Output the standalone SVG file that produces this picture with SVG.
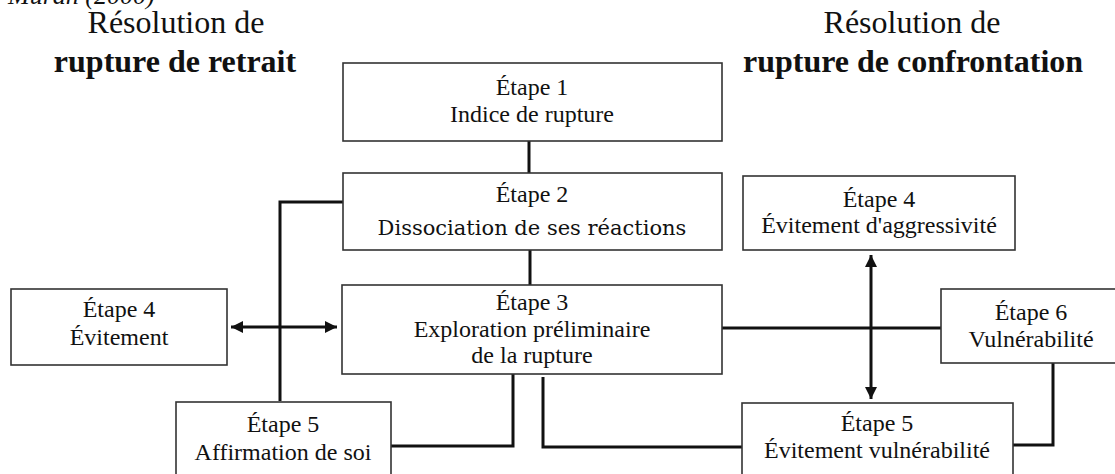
<svg xmlns="http://www.w3.org/2000/svg" width="1115" height="474" viewBox="0 0 1115 474">
<style>
.box{fill:#fff;stroke:#333;stroke-width:1.6}
.t{font-family:"Liberation Serif","Times New Roman",serif;font-size:24px;fill:#111;text-anchor:middle}
.d{font-family:"DejaVu Serif",serif;font-size:21px;fill:#111;text-anchor:middle}
.h{font-family:"Liberation Serif","Times New Roman",serif;font-size:32px;fill:#111;text-anchor:middle}
.hb{font-family:"Liberation Serif","Times New Roman",serif;font-size:32px;font-weight:bold;fill:#111;text-anchor:middle}
.c{fill:none;stroke:#111;stroke-width:3}
</style>
<defs>
<marker id="ah" viewBox="0 0 10 10" refX="10" refY="5" markerWidth="4" markerHeight="4" orient="auto-start-reverse" markerUnits="strokeWidth">
<path d="M0,0 L10,5 L0,10 z" fill="#111"/>
</marker>
</defs>
<rect width="1115" height="474" fill="#fff"/>
<text x="8" y="4" font-family="Liberation Serif, serif" font-style="italic" font-size="26" fill="#111">Muran (2000)</text>
<g id="title-left">
<text class="h" x="176" y="33">Résolution de</text>
<text class="hb" x="175" y="72">rupture de retrait</text>
</g>
<g id="title-right">
<text class="h" x="912" y="33">Résolution de</text>
<text class="hb" x="913" y="72">rupture de confrontation</text>
</g>
<g id="connectors">
<path class="c" d="M529,141 V173"/>
<path class="c" d="M530,250 V285"/>
<path class="c" d="M343,202 H280 V401"/>
<path class="c" d="M231,327 H337" marker-start="url(#ah)" marker-end="url(#ah)"/>
<path class="c" d="M513,374 V446 H391"/>
<path class="c" d="M543,377 V447 H742"/>
<path class="c" d="M722,328 H941"/>
<path class="c" d="M871,255 V399" marker-start="url(#ah)" marker-end="url(#ah)"/>
<path class="c" d="M1013,445 H1053 V363"/>
</g>
<g id="n1">
<rect class="box" x="343" y="63" width="379" height="78"/>
<text class="t" x="532" y="95">Étape 1</text>
<text class="t" x="532" y="122">Indice de rupture</text>
</g>
<g id="n2">
<rect class="box" x="343" y="173" width="379" height="77"/>
<text class="t" x="532" y="202">Étape 2</text>
<text class="d" x="532" y="235">Dissociation de ses réactions</text>
</g>
<g id="n3">
<rect class="box" x="342" y="285" width="380" height="89"/>
<text class="t" x="532" y="310">Étape 3</text>
<text class="t" x="532" y="337">Exploration préliminaire</text>
<text class="t" x="532" y="363">de la rupture</text>
</g>
<g id="n4l">
<rect class="box" x="11" y="289" width="216" height="76"/>
<text class="t" x="119" y="317">Étape 4</text>
<text class="t" x="119" y="345">Évitement</text>
</g>
<g id="n5l">
<rect class="box" x="176" y="402" width="215" height="80"/>
<text class="t" x="283" y="432">Étape 5</text>
<text class="t" x="283" y="460">Affirmation de soi</text>
</g>
<g id="n4r">
<rect class="box" x="743" y="176" width="272" height="74"/>
<text class="t" x="879" y="207">Étape 4</text>
<text class="t" x="879" y="233">Évitement d'aggressivité</text>
</g>
<g id="n6">
<rect class="box" x="941" y="289" width="180" height="74"/>
<text class="t" x="1031" y="320">Étape 6</text>
<text class="t" x="1031" y="347">Vulnérabilité</text>
</g>
<g id="n5r">
<rect class="box" x="742" y="403" width="271" height="80"/>
<text class="t" x="877" y="431">Étape 5</text>
<text class="t" x="877" y="458">Évitement vulnérabilité</text>
</g>
</svg>
